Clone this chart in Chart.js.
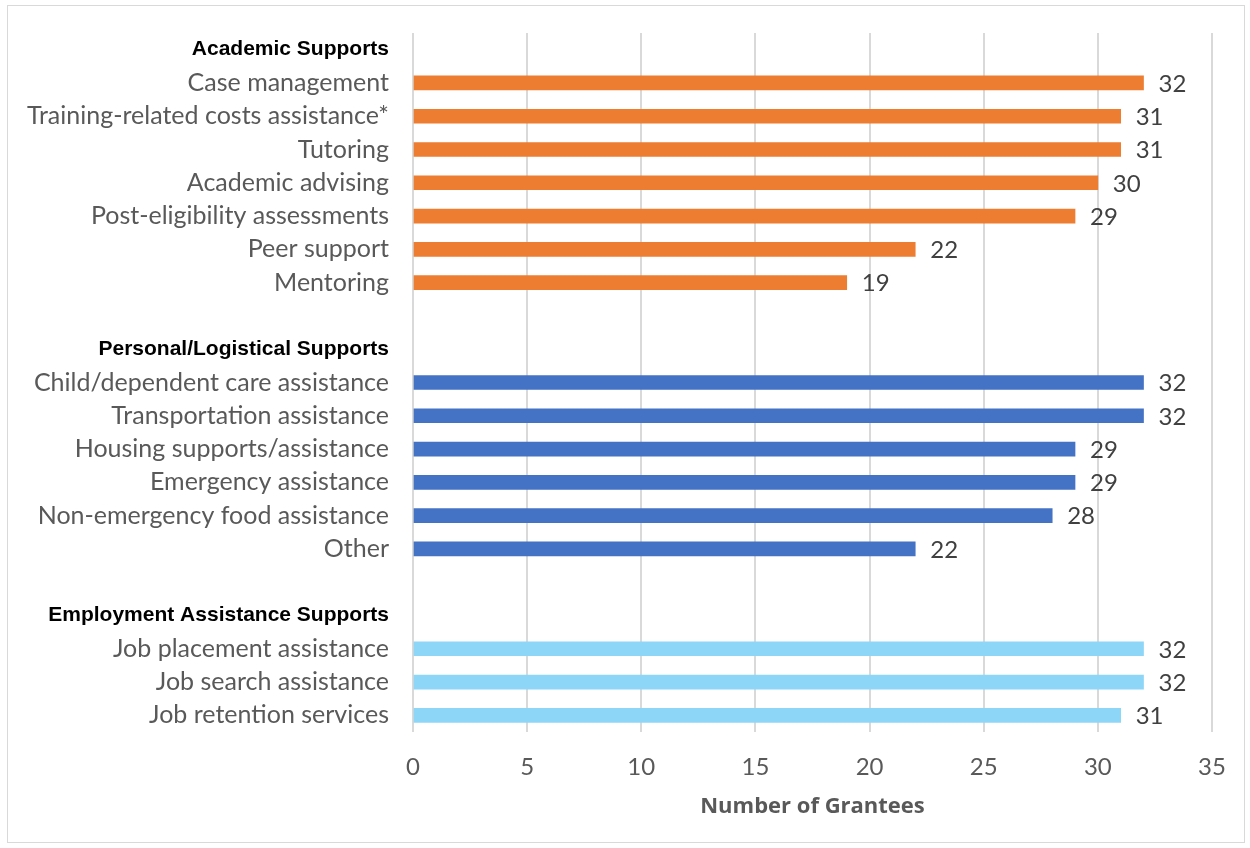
<!DOCTYPE html>
<html>
<head>
<meta charset="utf-8">
<script src="https://cdn.jsdelivr.net/npm/chart.js@4"></script>
<style>
  html, body { margin: 0; padding: 0; background: #fff; }
  #frame { position: absolute; left: 7px; top: 5px; width: 1236px; height: 836px; border: 1px solid #d9d9d9; }
</style>
</head>
<body>
<div id="frame"><canvas id="chartSupports" width="1236" height="836"></canvas></div>
<script>
// rows top to bottom; '' rows are spacers between the groups
const categories = [
  'Academic Supports',
  'Case management', 'Training-related costs assistance*', 'Tutoring', 'Academic advising',
  'Post-eligibility assessments', 'Peer support', 'Mentoring',
  '',
  'Personal/Logistical Supports',
  'Child/dependent care assistance', 'Transportation assistance', 'Housing supports/assistance',
  'Emergency assistance', 'Non-emergency food assistance', 'Other',
  '',
  'Employment Assistance Supports',
  'Job placement assistance', 'Job search assistance', 'Job retention services'
];
const headerRows = ['Academic Supports', 'Personal/Logistical Supports', 'Employment Assistance Supports'];
const grantees = [
  null, 32, 31, 31, 30, 29, 22, 19,
  null,
  null, 32, 32, 29, 29, 28, 22,
  null,
  null, 32, 32, 31
];
const groupOf = [
  0, 0, 0, 0, 0, 0, 0, 0,
  0,
  1, 1, 1, 1, 1, 1, 1,
  1,
  2, 2, 2, 2
];
const groupColors = ['#ED7D31', '#4472C4', '#8ED6F8'];
const xTicks = [0, 5, 10, 15, 20, 25, 30, 35];

const isHeader = i => headerRows.includes(categories[i]);

const valueLabels = {
  id: 'valueLabels',
  afterDatasetsDraw(chart) {
    const ctx = chart.ctx;
    const meta = chart.getDatasetMeta(0);
    ctx.save();
    ctx.font = '24px Lato';
    ctx.fillStyle = '#404040';
    ctx.textAlign = 'left';
    ctx.textBaseline = 'middle';
    meta.data.forEach((bar, i) => {
      const v = grantees[i];
      if (v == null) return;
      ctx.fillText(String(v), bar.x + 15, bar.y + 1);
    });
    ctx.restore();
  }
};

new Chart(document.getElementById('chartSupports'), {
  type: 'bar',
  data: {
    labels: categories,
    datasets: [{
      data: grantees,
      backgroundColor: groupOf.map(g => groupColors[g]),
      barThickness: 14
    }]
  },
  options: {
    indexAxis: 'y',
    responsive: false,
    animation: false,
    layout: { padding: { left: 0, right: 32, top: 27, bottom: 0 } },
    plugins: { legend: { display: false }, tooltip: { enabled: false } },
    scales: {
      x: {
        min: 0,
        max: 35,
        afterBuildTicks: scale => { scale.ticks = xTicks.map(v => ({ value: v })); },
        afterFit: scale => {
          scale.height = 110;
          scale.paddingLeft = 0;
          scale.paddingRight = 0;
        },
        grid: { color: '#d9d9d9', lineWidth: 2, drawTicks: false },
        border: { display: false },
        ticks: { color: '#595959', font: { family: 'Lato', size: 24 }, padding: 21 },
        title: {
          display: true,
          text: 'Number of Grantees',
          color: '#595959',
          font: { family: 'Open Sans', size: 22, weight: 'bold' },
          padding: { top: 0, bottom: 22 }
        }
      },
      y: {
        afterFit: scale => {
          scale.width = 405;
          scale.paddingTop = 0;
          scale.paddingBottom = 0;
        },
        grid: { display: false, drawTicks: false },
        border: { display: false },
        ticks: {
          autoSkip: false,
          padding: 24,
          color: ctx => isHeader(ctx.index) ? '#000000' : '#595959',
          font: ctx => isHeader(ctx.index)
            ? { family: 'Liberation Sans', size: 21, weight: 'bold' }
            : { family: 'Lato', size: 25 }
        }
      }
    }
  },
  plugins: [valueLabels]
});
</script>
</body>
</html>
